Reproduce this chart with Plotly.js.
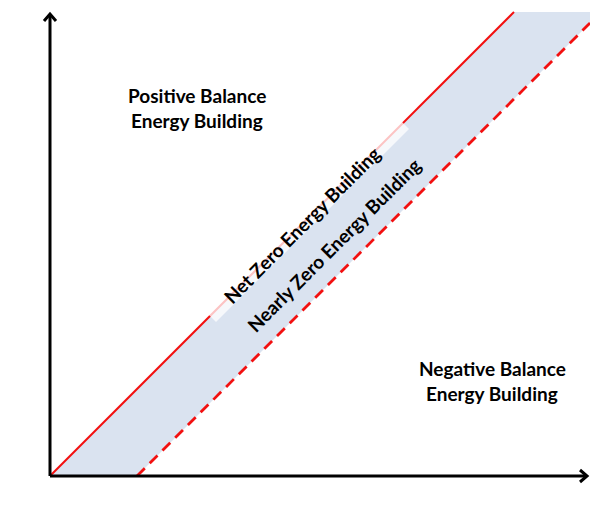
<!DOCTYPE html>
<html>
<head>
<meta charset="utf-8">
<script src="https://cdn.plot.ly/plotly-3.0.1.min.js"></script>
<style>html,body{margin:0;padding:0;background:#fff;}#chart{width:590px;height:511px;}</style>
</head>
<body>
<div id="chart"></div>
<script>
// Data (units: energy needs / production, arbitrary scale)
var netZeroNeeds = [0, 464];
var netZeroProduction = [0, 464];
var nearlyZeroNeeds = [87, 540];
var nearlyZeroProduction = [0, 453];
var bandNeeds = [0, 464, 540, 540, 87];
var bandProduction = [0, 464, 464, 453, 0];
var regionLabels = ["Positive Balance", "Energy Building", "Negative Balance", "Energy Building"];
var lineLabels = ["Net Zero Energy Building", "Nearly Zero Energy Building"];
var axisTitles = ["Energy Needs", "Energy Production"];

var FONT = "Lato, 'Open Sans', sans-serif";

var traces = [
  {x: bandNeeds, y: bandProduction, type: 'scatter', mode: 'lines', fill: 'toself',
   fillcolor: '#dae3f0', line: {width: 0}, hoverinfo: 'skip'},
  {x: netZeroNeeds, y: netZeroProduction, type: 'scatter', mode: 'lines',
   line: {color: '#f21010', width: 2}, hoverinfo: 'skip'},
  {x: nearlyZeroNeeds, y: nearlyZeroProduction, type: 'scatter', mode: 'lines',
   line: {color: '#f21010', width: 2.8, dash: '11px,7px'}, hoverinfo: 'skip'}
];

var shapes = [
  // translucent box behind Net Zero label
  {type: 'path', xref: 'x', yref: 'y', layer: 'above',
   path: 'M 152 168 L 345 361 L 359 347 L 166 154 Z',
   fillcolor: 'rgba(255,255,255,0.75)', line: {width: 0}},
  // axes
  {type: 'line', xref: 'x', yref: 'y', x0: 0, y0: 0, x1: 0, y1: 462, line: {color: '#000', width: 3}, layer: 'above'},
  {type: 'line', xref: 'x', yref: 'y', x0: 0, y0: 0, x1: 537, y1: 0, line: {color: '#000', width: 3}, layer: 'above'},
  {type: 'path', xref: 'x', yref: 'y', path: 'M -6 455 L 0 462 L 6 455', line: {color: '#000', width: 3}, layer: 'above'},
  {type: 'path', xref: 'x', yref: 'y', path: 'M 530 -6 L 537 0 L 530 6', line: {color: '#000', width: 3}, layer: 'above'}
];

function lbl(text, x, y, extra) {
  var a = {text: '<b>' + text + '</b>', x: x, y: y, xref: 'x', yref: 'y', showarrow: false,
    xanchor: 'center', yanchor: 'middle', font: {family: FONT, size: 19, color: '#000'}};
  for (var k in extra) a[k] = extra[k];
  return a;
}

var annotations = [
  lbl(regionLabels[0], 147, 381),
  lbl(regionLabels[1], 147, 356),
  lbl(regionLabels[2], 442, 108),
  lbl(regionLabels[3], 442, 83),
  lbl(lineLabels[0], 251, 251, {textangle: -45}),
  lbl(lineLabels[1], 283, 231, {textangle: -45}),
  lbl(axisTitles[0], 274, -26),
  lbl(axisTitles[1], -30, 231, {textangle: -90})
];

var layout = {
  width: 590, height: 511,
  margin: {l: 30, r: 0, t: 5, b: 25, pad: 0},
  paper_bgcolor: '#fff', plot_bgcolor: '#fff',
  showlegend: false,
  xaxis: {range: [-20, 540], visible: false, fixedrange: true},
  yaxis: {range: [-10, 471], visible: false, fixedrange: true},
  shapes: shapes,
  annotations: annotations
};

Plotly.newPlot('chart', traces, layout, {staticPlot: true, displayModeBar: false});
</script>
</body>
</html>
